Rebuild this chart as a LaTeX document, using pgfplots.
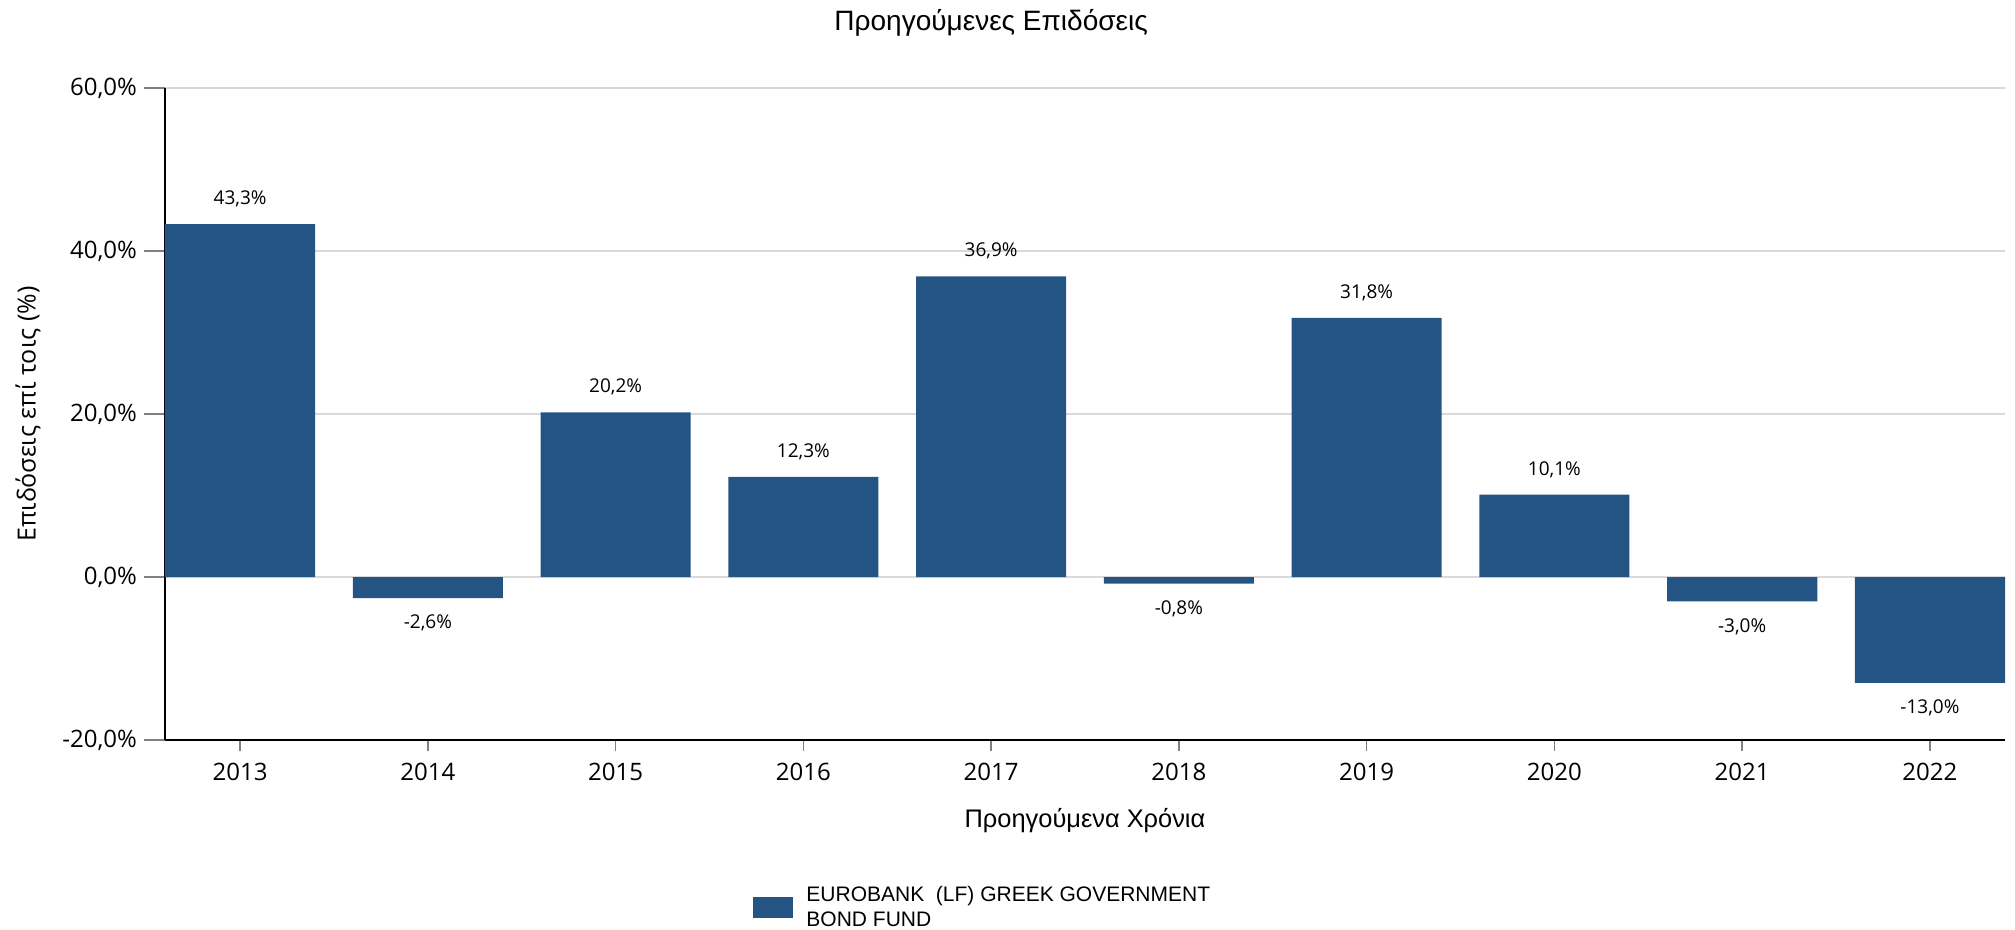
\documentclass[border=0pt]{standalone}
\usepackage{fontspec}
\usepackage{pgfplots}
\pgfplotsset{compat=1.18}
\newfontfamily\osans{Open Sans}
\newfontfamily\lsans{Liberation Sans}
\definecolor{barblue}{RGB}{36,84,132}
\definecolor{gridgray}{RGB}{217,217,217}
\definecolor{tickgray}{RGB}{128,128,128}
\begin{document}
\begin{tikzpicture}
\useasboundingbox (-82.5bp,-95bp) rectangle (925bp,370bp);
\begin{axis}[
  scale only axis,
  width=920bp, height=326bp,
  xmin=-0.4, xmax=9.4,
  ymin=-20, ymax=60,
  ytick={-20,0,20,40,60},
  xtick={0,...,9},
  xticklabels={2013,2014,2015,2016,2017,2018,2019,2020,2021,2022},
  axis lines=left,
  axis line style={-, black, line width=1bp},
  tick align=outside,
  major tick length=10.5bp,
  xtick style={tickgray, line width=0.75bp, /pgfplots/major tick length=5.5bp},
  ytick style={tickgray, line width=0.75bp},
  ymajorgrids,
  grid style={gridgray, line width=1bp},
  /pgf/number format/assume math mode=true,
  yticklabel={\pgfmathprintnumber[fixed,fixed zerofill,precision=1,use comma]{\tick}\%},
  tick label style={font=\osans\fontsize{12bp}{14bp}\selectfont, text=black},
  xticklabel style={yshift=2.5bp},
  ybar, bar width=0.8,
  nodes near coords={\pgfmathprintnumber[fixed,fixed zerofill,precision=1,use comma]{\pgfplotspointmeta}\%},
  every node near coord/.append style={font=\osans\fontsize{9.5bp}{11bp}\selectfont, text=black, inner ysep=8.3bp},
  title={Προηγούμενες Επιδόσεις},
  title style={at={(axis description cs:0.449,1.082)}, anchor=center, yshift=0pt, font=\lsans\fontsize{14bp}{16bp}\selectfont},
  xlabel={Προηγούμενα Χρόνια},
  xlabel style={at={(axis description cs:0.5,-0.124)}, anchor=center, font=\lsans\fontsize{12.7bp}{15bp}\selectfont},
  ylabel={Επιδόσεις επί τοις (\%)},
  ylabel style={at={(axis description cs:-0.0745,0.5)}, rotate=0, anchor=center, font=\osans\fontsize{12.5bp}{14bp}\selectfont},
  legend style={at={(axis description cs:0.3196,-0.217)}, anchor=north west, draw=none, inner sep=0pt,
    font=\lsans\fontsize{10.5bp}{12.5bp}\selectfont, cells={align=left},
    /tikz/every even column/.append style={column sep=0bp}},
  legend image code/.code={\fill[barblue] (0bp,-5.25bp) rectangle (20bp,5.25bp);},
  legend style={/tikz/every odd column/.append style={column sep=4.5bp}},
]
\addplot[fill=barblue, draw=none] coordinates {
  (0,43.3) (1,-2.6) (2,20.2) (3,12.3) (4,36.9)
  (5,-0.8) (6,31.8) (7,10.1) (8,-3.0) (9,-13.0)
};
\addlegendentry{EUROBANK\ \ (LF) GREEK GOVERNMENT\\BOND FUND}
\end{axis}
\end{tikzpicture}
\end{document}
